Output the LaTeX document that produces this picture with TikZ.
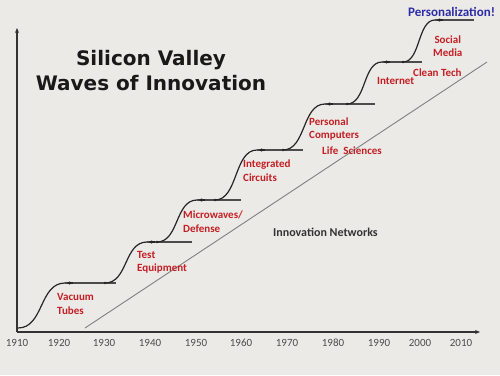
\documentclass[tikz,border=0pt]{standalone}
\usepackage{fontspec}
\setmainfont{Carlito}
\newfontfamily\titlefont{DejaVu Sans}
\usetikzlibrary{arrows.meta}
\definecolor{bgcol}{RGB}{236,234,231}
\definecolor{wavered}{RGB}{196,30,36}
\definecolor{persblue}{RGB}{44,44,168}
\definecolor{inkgray}{RGB}{51,51,51}
\tikzset{
  axis/.style    = {-{Stealth[length=5pt,width=4pt]}, line width=1.4pt, inkgray},
  wave/.style    = {line width=1.2pt, black!85},
  plateau/.style = {line width=1.5pt, black!70},
  tipmark/.style = {-{Latex[length=4pt,width=3.5pt]}, line width=1.2pt, black!85},
  netline/.style = {line width=0.9pt, black!50},
  field/.style   = {font=\bfseries\fontsize{11}{13.5}\selectfont, text=wavered,
                    align=left, anchor=west, inner sep=0pt},
  year/.style    = {font=\fontsize{11}{13}\selectfont, text=black!70, inner sep=0pt},
}
\begin{document}
\begin{tikzpicture}[x=1pt,y=-1pt]
  \fill[bgcol] (0,0) rectangle (500,375);
  \useasboundingbox (0,0) rectangle (500,375);
  \coordinate (O) at (17,332);
  \coordinate (ytop) at (17,28);
  \coordinate (xend) at (480,332);
  \draw[axis] (O) -- (ytop);
  \draw[axis] (O) -- (xend);
  \foreach \yr/\xx in {1910/17,1920/59,1930/104,1940/150,1950/196,1960/241,
                       1970/287,1980/333,1990/379,2000/420,2010/461}
    \node[year] (y\yr) at (\xx,343) {\yr};
  \coordinate (netS) at (85,328);
  \coordinate (netE) at (487,62);
  \draw[netline] (netS) -- (netE);
  \foreach \xa/\ya/\xb/\yb/\xe [count=\i] in {18/328/65/283/116, 105/283/147/242/192,
      157/242/197/200/241, 215/200/257/150/303, 283/150/325/104/375,
      347/104/382/62/422, 403/62/435/20/474} {
    \coordinate (w\i s) at (\xa,\ya);
    \coordinate (w\i t) at (\xb,\yb);
    \coordinate (w\i e) at (\xe,\yb);
    \draw[plateau] (w\i t) -- (w\i e);
    \draw[wave] (w\i s) .. controls ({\xa+0.55*(\xb-\xa)},\ya) and ({\xb-0.55*(\xb-\xa)},\yb) .. (w\i t);
    \draw[tipmark] ([xshift=8pt]w\i t) -- ([xshift=1pt]w\i t);
    \ifnum\i>1 \fill[black!85] (w\i s) circle (1.4pt); \fi
  }
  \node[font=\titlefont\bfseries\fontsize{20}{25}\selectfont, align=center, text=black!90] (title) at (151,71) {Silicon Valley\\Waves of Innovation};
  \node[field] (vacuum) at (57,304) {Vacuum\\Tubes};
  \node[field] (test) at (137,262.5) {Test\\Equipment};
  \node[field] (micro) at (183,221.5) {Microwaves/\\Defense};
  \node[field] (integ) at (243,170.5) {Integrated\\Circuits};
  \node[field] (pers) at (309,129) {Personal\\Computers};
  \node[field] (life) at (322,151) {Life\ \ Sciences};
  \node[field] (inet) at (377,81) {Internet};
  \node[field] (clean) at (413,73) {Clean Tech};
  \node[field, align=center] (social) at (433,46) {Social\\Media};
  \node[font=\bfseries\fontsize{12}{14}\selectfont, text=inkgray, anchor=west, inner sep=0pt] (netw) at (273,232) {Innovation Networks};
  \node[font=\bfseries\fontsize{13}{15}\selectfont, text=persblue, anchor=west, inner sep=0pt] (perso) at (408,12) {Personalization!};
\end{tikzpicture}
\end{document}
